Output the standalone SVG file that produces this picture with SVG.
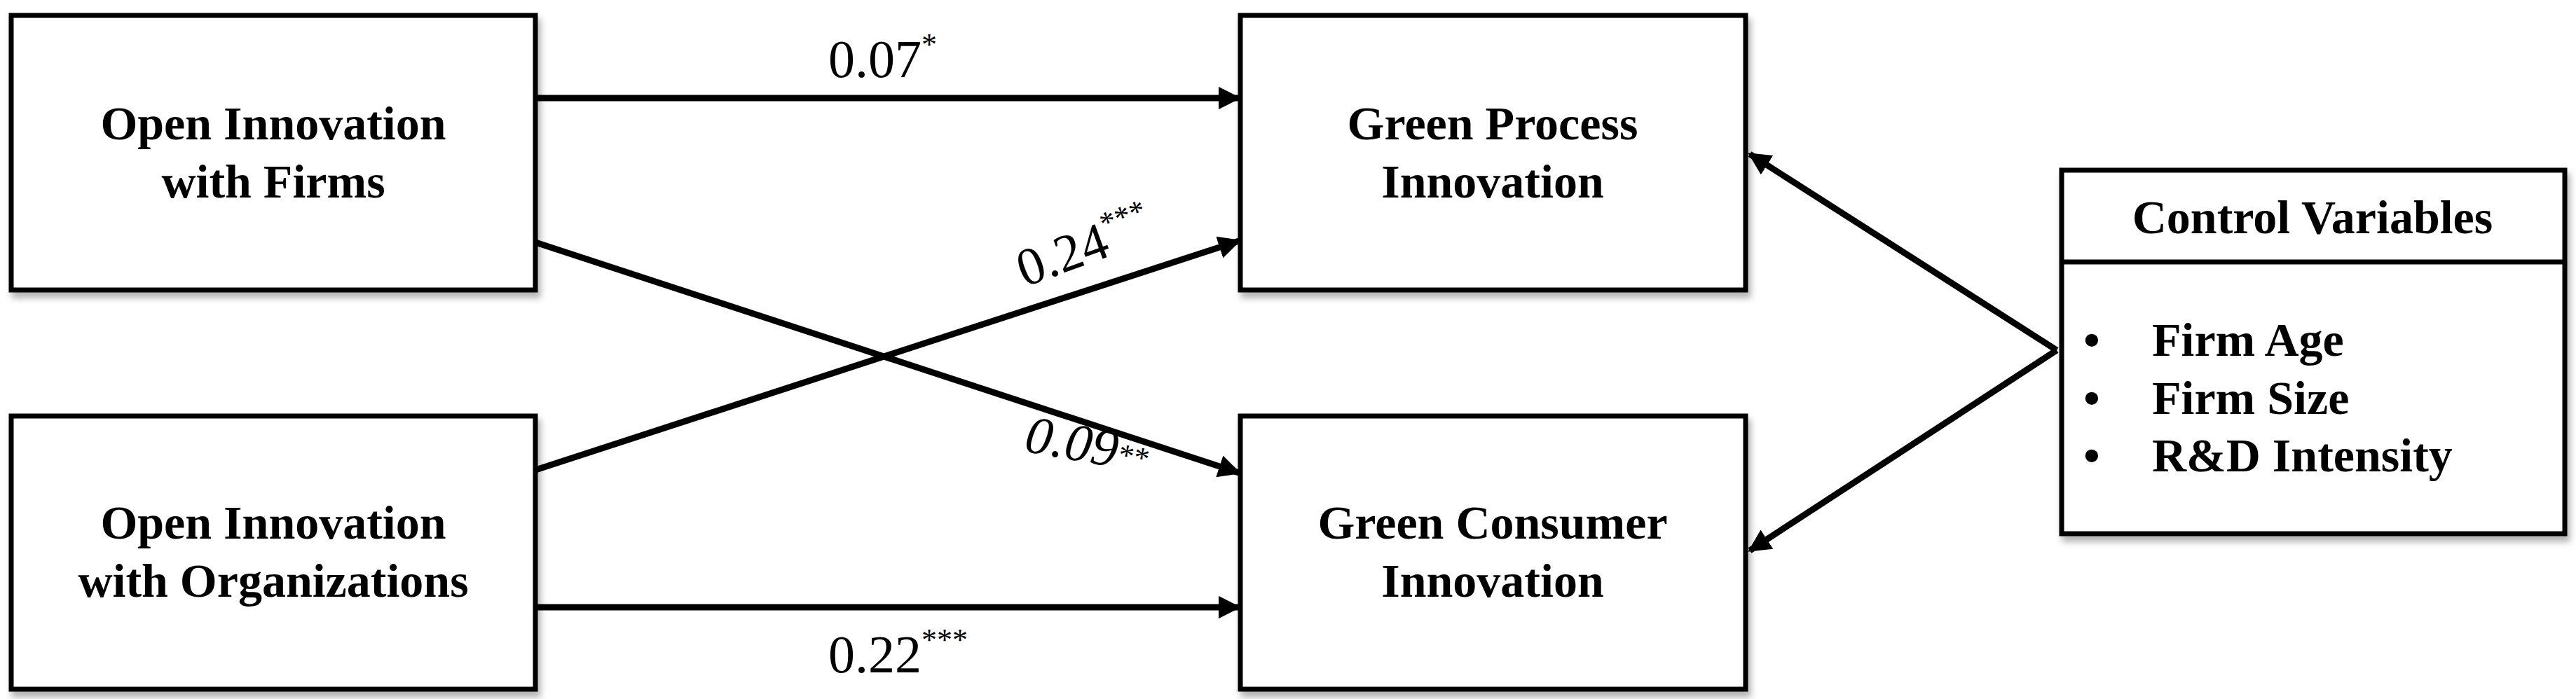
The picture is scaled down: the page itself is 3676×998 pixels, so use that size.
<svg xmlns="http://www.w3.org/2000/svg" width="3676" height="998" viewBox="0 0 3676 998">
<style>
.box{fill:#fff;stroke:#000;stroke-width:7;filter:url(#sh)}
.t{font-family:"Liberation Serif",serif;font-weight:bold;font-size:68px;text-anchor:middle}
.b{font-family:"Liberation Serif",serif;font-weight:bold;font-size:68px}
.l{font-family:"Liberation Serif",serif;font-size:76px}
.s{font-size:44px}
.c{stroke:#000;stroke-width:9;fill:none;marker-end:url(#ah)}
</style>
<defs>
<filter id="sh" x="-5%" y="-5%" width="115%" height="115%"><feDropShadow dx="4" dy="8" stdDeviation="5" flood-color="#000" flood-opacity="0.3"/></filter>
<marker id="ah" viewBox="0 0 10 10" refX="9" refY="5" markerWidth="3.6" markerHeight="3.6" orient="auto" markerUnits="strokeWidth"><path d="M0,0 L10,5 L0,10 Z" fill="#000"/></marker>
</defs>
<g id="n1"><rect class="box" x="16" y="22" width="748" height="392"/><text class="t" x="390" y="199">Open Innovation</text><text class="t" x="390" y="282">with Firms</text></g>
<g id="n2"><rect class="box" x="16" y="594" width="748" height="390"/><text class="t" x="390" y="769">Open Innovation</text><text class="t" x="390" y="852">with Organizations</text></g>
<g id="n3"><rect class="box" x="1770" y="22" width="721" height="392"/><text class="t" x="2130" y="199">Green Process</text><text class="t" x="2130" y="282">Innovation</text></g>
<g id="n4"><rect class="box" x="1770" y="594" width="721" height="390"/><text class="t" x="2130" y="769">Green Consumer</text><text class="t" x="2130" y="852">Innovation</text></g>
<g id="n5"><rect class="box" x="2942" y="243" width="718" height="519"/><line x1="2942" y1="374" x2="3660" y2="374" stroke="#000" stroke-width="7"/>
<text class="t" x="3300" y="333">Control Variables</text>
<text class="b" x="2973" y="508">•</text><text class="b" x="3071" y="508">Firm Age</text>
<text class="b" x="2973" y="591">•</text><text class="b" x="3071" y="591">Firm Size</text>
<text class="b" x="2973" y="673">•</text><text class="b" x="3071" y="673">R&amp;D Intensity</text></g>
<g id="connectors">
<line class="c" x1="764" y1="140" x2="1768" y2="140"/>
<line class="c" x1="764" y1="867" x2="1768" y2="867"/>
<line class="c" x1="764" y1="346" x2="1768" y2="675"/>
<line class="c" x1="764" y1="671" x2="1768" y2="344"/>
<line class="c" x1="2935" y1="500" x2="2497" y2="220"/>
<line class="c" x1="2935" y1="500" x2="2497" y2="786"/>
<text class="l" x="1182" y="110">0.07<tspan class="s" dy="-32">*</tspan></text>
<text class="l" x="1182" y="960">0.22<tspan class="s" dy="-32">***</tspan></text>
<text class="l" transform="translate(1462,410) rotate(-20)">0.24<tspan class="s" dy="-32">***</tspan></text>
<text class="l" font-style="italic" transform="translate(1460,644) rotate(10)">0.09<tspan class="s" dy="-5">**</tspan></text>
</g>
</svg>
